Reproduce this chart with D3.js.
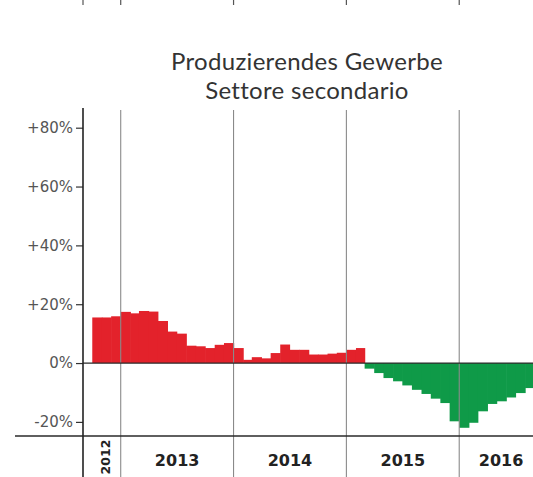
<!DOCTYPE html>
<html>
<head>
<meta charset="utf-8">
<script src="https://cdn.jsdelivr.net/npm/d3@7"></script>
<style>
  html, body { margin: 0; padding: 0; background: #fff; }
  svg { display: block; }
</style>
</head>
<body>
<svg id="chart" width="533" height="477"></svg>
<script>
// ---- data ----
const titleLines = ["Produzierendes Gewerbe", "Settore secondario"];
const firstMonth = [2012, 9];   // October 2012 (year, monthIndex)
const values = [
  // 2012 Oct-Dec
  15.5, 15.5, 15.9,
  // 2013
  17.4, 16.9, 17.7, 17.5, 14.3, 10.7, 10.0, 5.9, 5.7, 5.1, 6.2, 6.8,
  // 2014
  5.1, 1.1, 2.0, 1.6, 3.4, 6.3, 4.5, 4.5, 2.9, 2.9, 3.2, 3.5,
  // 2015
  4.5, 5.1, -1.9, -3.4, -5.1, -6.2, -7.6, -9.1, -10.5, -12.1, -13.6, -19.8,
  // 2016 Jan-Aug
  -22.0, -20.3, -16.4, -13.9, -13.0, -11.7, -10.2, -8.5
];
const yTicks = [-20, 0, 20, 40, 60, 80];
const years = [2012, 2013, 2014, 2015, 2016];

// ---- layout ----
const W = 533, H = 477;
const xLeft = 83, xRightPlot = 543;
const svg = d3.select("#chart");

const x = d3.scaleTime()
  .domain([new Date(2012, 8, 1), new Date(2016, 8, 28)])
  .range([xLeft, xRightPlot]);
const y = d3.scaleLinear().domain([-20, 80]).range([421.9, 127.7]);

const data = values.map((v, i) => ({
  date: new Date(firstMonth[0], firstMonth[1] + i, 1),
  value: v
}));

// title
svg.append("g").selectAll("text").data(titleLines).join("text")
  .attr("x", 307)
  .attr("y", (d, i) => 70 + i * 29)
  .attr("text-anchor", "middle")
  .attr("font-family", "Lato, 'Open Sans', sans-serif")
  .attr("font-size", 24)
  .attr("letter-spacing", 0.3)
  .attr("fill", "#333")
  .text(d => d);

// remnants of chart above: small ticks at top
const yearStarts = years.slice(1).map(yr => new Date(yr, 0, 1));
svg.append("g").selectAll("line").data([new Date(2012, 8, 1), ...yearStarts]).join("line")
  .attr("x1", d => x(d)).attr("x2", d => x(d))
  .attr("y1", 0).attr("y2", 5)
  .attr("stroke", "#555").attr("stroke-width", 1.2);

// bars
svg.append("g").selectAll("rect").data(data).join("rect")
  .attr("x", d => x(d.date))
  .attr("width", d => x(d3.timeMonth.offset(d.date, 1)) - x(d.date) + 0.6)
  .attr("y", d => d.value >= 0 ? y(d.value) : y(0))
  .attr("height", d => Math.abs(y(d.value) - y(0)))
  .attr("fill", d => d.value >= 0 ? "#e3222b" : "#0f9a48");

// year separators
svg.append("g").selectAll("line").data(yearStarts).join("line")
  .attr("x1", d => x(d)).attr("x2", d => x(d))
  .attr("y1", 110).attr("y2", H)
  .attr("stroke", "#8a8a8a").attr("stroke-width", 1.1);

// zero line
svg.append("line")
  .attr("x1", xLeft).attr("x2", W)
  .attr("y1", y(0)).attr("y2", y(0))
  .attr("stroke", "#2a2a2a").attr("stroke-width", 1.2);

// bottom axis line
svg.append("line")
  .attr("x1", 15).attr("x2", W)
  .attr("y1", 436).attr("y2", 436)
  .attr("stroke", "#2a2a2a").attr("stroke-width", 1.6);

// y axis
const yAxis = d3.axisLeft(y)
  .tickValues(yTicks)
  .tickSize(7)
  .tickPadding(3)
  .tickFormat(d => (d > 0 ? "+" : "") + d + "%");
const gy = svg.append("g").attr("transform", `translate(${xLeft},0)`).call(yAxis);
gy.select(".domain").remove();
gy.selectAll(".tick line").attr("stroke", "#333").attr("stroke-width", 1.2);
gy.selectAll(".tick text")
  .attr("font-family", "'DejaVu Sans', sans-serif")
  .attr("font-size", 15)
  .attr("fill", "#555");

svg.append("line")
  .attr("x1", xLeft).attr("x2", xLeft)
  .attr("y1", 108).attr("y2", H)
  .attr("stroke", "#222").attr("stroke-width", 1.6);

// year labels
const domainStart = x.domain()[0], domainEnd = x.domain()[1];
const labelG = svg.append("g");
years.forEach(yr => {
  const s = new Date(Math.max(new Date(yr, 0, 1), domainStart));
  const e = new Date(Math.min(new Date(yr + 1, 0, 1), domainEnd));
  const cx = (x(s) + x(e)) / 2;
  if (yr === 2012) {
    labelG.append("text")
      .attr("transform", `translate(${cx + 4},457) rotate(-90)`)
      .attr("text-anchor", "middle")
      .attr("dy", "0.36em")
      .attr("font-family", "'DejaVu Sans', sans-serif")
      .attr("font-weight", "bold")
      .attr("font-size", 12.5)
      .attr("fill", "#222")
      .text(yr);
  } else {
    labelG.append("text")
      .attr("x", cx)
      .attr("y", 466)
      .attr("text-anchor", "middle")
      .attr("font-family", "'DejaVu Sans', sans-serif")
      .attr("font-weight", "bold")
      .attr("font-size", 16)
      .attr("fill", "#222")
      .text(yr);
  }
});
</script>
</body>
</html>
